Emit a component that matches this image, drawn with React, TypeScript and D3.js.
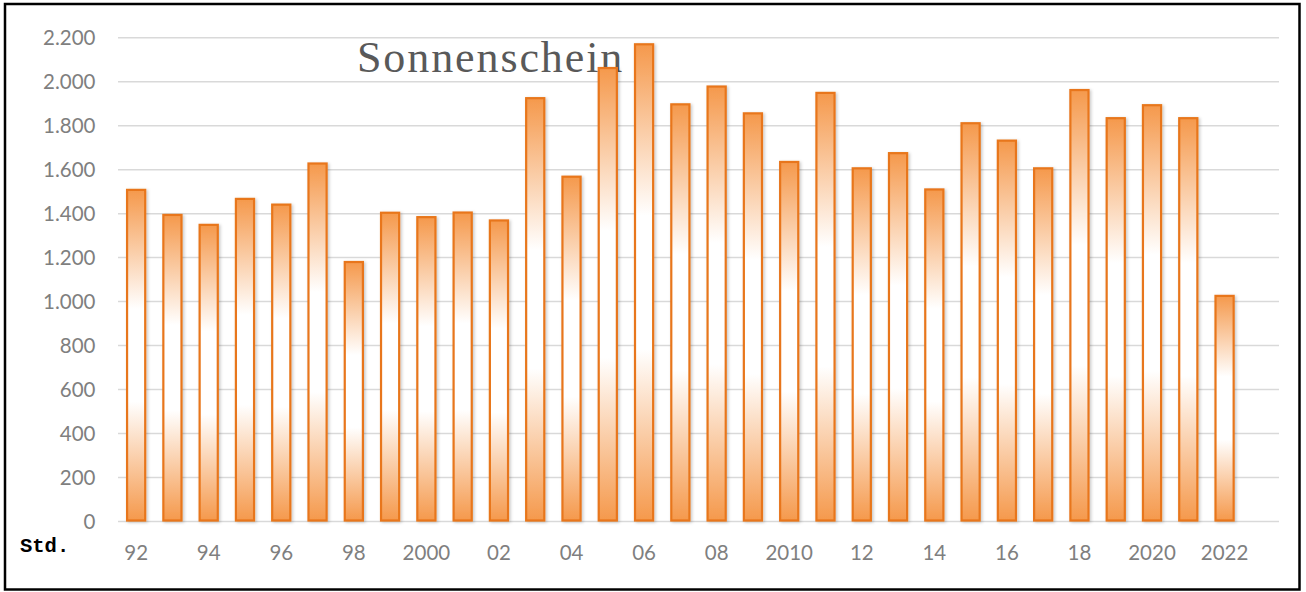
import React, { useEffect, useRef } from 'react';
import * as d3 from 'd3';

// Sonnenscheindauer in Stunden pro Jahr
const years = [
  1992, 1993, 1994, 1995, 1996, 1997, 1998, 1999, 2000, 2001, 2002,
  2003, 2004, 2005, 2006, 2007, 2008, 2009, 2010, 2011, 2012, 2013,
  2014, 2015, 2016, 2017, 2018, 2019, 2020, 2021, 2022, 2023,
];
const sunshine = [
  1508, 1394, 1349, 1467, 1441, 1628, 1180, 1404, 1384, 1405, 1369,
  1925, 1568, 2062, 2170, 1897, 1978, 1856, 1635, 1949, 1606, 1675,
  1510, 1811, 1732, 1606, 1962, 1834, 1893, 1834, 1026,
];
const yTicks = [0, 200, 400, 600, 800, 1000, 1200, 1400, 1600, 1800, 2000, 2200];
const xTickLabels: Record<number, string> = {
  1992: '92', 1994: '94', 1996: '96', 1998: '98', 2000: '2000', 2002: '02',
  2004: '04', 2006: '06', 2008: '08', 2010: '2010', 2012: '12', 2014: '14',
  2016: '16', 2018: '18', 2020: '2020', 2022: '2022',
};

const W = 1306;
const H = 592;
const plot = { left: 118, right: 1279, top: 37.7, bottom: 521.5 };

const App: React.FC = () => {
  const svgRef = useRef<SVGSVGElement>(null);

  useEffect(() => {
    if (!svgRef.current) return;
    const svg = d3.select(svgRef.current);
    svg.selectAll('*').remove();

    const x = d3.scaleBand<number>()
      .domain(years)
      .range([plot.left, plot.right])
      .paddingInner(0.5)
      .paddingOuter(0.25);

    const y = d3.scaleLinear()
      .domain([0, 2200])
      .range([plot.bottom, plot.top]);

    const defs = svg.append('defs');
    const grad = defs.append('linearGradient')
      .attr('id', 'barGrad')
      .attr('x1', 0).attr('y1', 0).attr('x2', 0).attr('y2', 1);
    [
      [0, '#f5994c'],
      [0.36, '#ffffff'],
      [0.64, '#ffffff'],
      [1, '#f5994c'],
    ].forEach(([o, c]) => {
      grad.append('stop').attr('offset', o as number).attr('stop-color', c as string);
    });

    const shadow = defs.append('filter')
      .attr('id', 'barShadow')
      .attr('x', '-30%').attr('y', '-5%').attr('width', '160%').attr('height', '110%');
    shadow.append('feDropShadow')
      .attr('dx', 1.5).attr('dy', 1)
      .attr('stdDeviation', 1.6)
      .attr('flood-color', '#000')
      .attr('flood-opacity', 0.22);

    // frame
    svg.append('rect')
      .attr('x', 5).attr('y', 4)
      .attr('width', 1294.5).attr('height', 585.5)
      .attr('fill', '#fff')
      .attr('stroke', '#000')
      .attr('stroke-width', 2.5);

    // grid
    svg.append('g')
      .selectAll('line')
      .data(yTicks)
      .enter()
      .append('line')
      .attr('x1', plot.left)
      .attr('x2', plot.right)
      .attr('y1', d => y(d))
      .attr('y2', d => y(d))
      .attr('stroke', '#d9d9d9')
      .attr('stroke-width', 1.5);

    // y labels
    svg.append('g')
      .selectAll('text')
      .data(yTicks)
      .enter()
      .append('text')
      .attr('x', 95.5)
      .attr('y', d => y(d))
      .attr('dy', '0.36em')
      .attr('text-anchor', 'end')
      .attr('font-family', 'Lato, "Open Sans", sans-serif')
      .attr('font-size', 20.5)
      .attr('fill', '#7f7f7f')
      .text(d => d3.format(',')(d).replace(/,/g, '.'));

    // title
    svg.append('text')
      .attr('x', 357)
      .attr('y', 72)
      .attr('font-family', '"Liberation Serif", serif')
      .attr('font-size', 44)
      .attr('letter-spacing', 1.9)
      .attr('fill', '#595959')
      .text('Sonnenschein');

    // bars
    svg.append('g')
      .selectAll('rect')
      .data(sunshine)
      .enter()
      .append('rect')
      .attr('x', (_, i) => x(years[i])!)
      .attr('y', d => y(d))
      .attr('width', x.bandwidth())
      .attr('height', d => y(0) - y(d) - 1)
      .attr('fill', 'url(#barGrad)')
      .attr('stroke', '#e8761a')
      .attr('stroke-width', 2.2)
      .attr('filter', 'url(#barShadow)');

    // x labels
    svg.append('g')
      .selectAll('text')
      .data(years.filter(yr => xTickLabels[yr]))
      .enter()
      .append('text')
      .attr('x', d => x(d)! + x.bandwidth() / 2)
      .attr('y', 560)
      .attr('text-anchor', 'middle')
      .attr('font-family', 'Lato, "Open Sans", sans-serif')
      .attr('font-size', 20.5)
      .attr('fill', '#7f7f7f')
      .text(d => xTickLabels[d]);

    // unit
    svg.append('text')
      .attr('x', 20)
      .attr('y', 551.5)
      .attr('font-family', '"Liberation Mono", "Courier New", monospace')
      .attr('font-weight', 'bold')
      .attr('font-size', 20.5)
      .attr('fill', '#000')
      .text('Std.');
  }, []);

  return (
    <div style={{ position: 'absolute', left: 0, top: 0 }}>
      <svg ref={svgRef} width={W} height={H} style={{ display: 'block' }} />
    </div>
  );
};

export default App;
